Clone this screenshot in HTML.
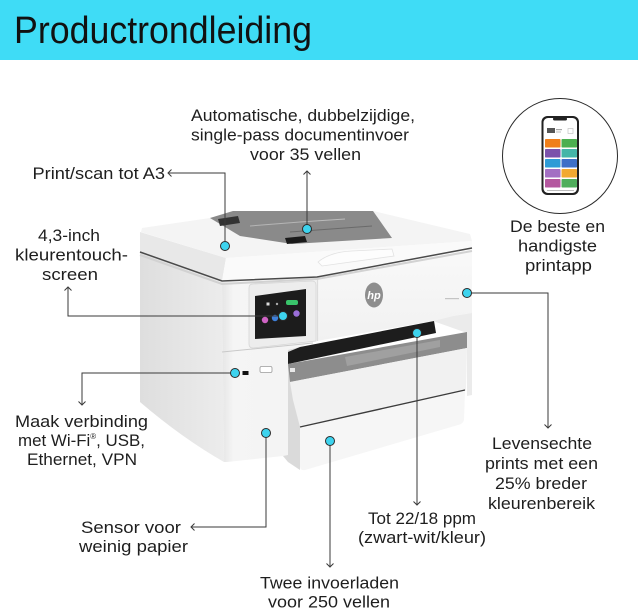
<!DOCTYPE html>
<html><head><meta charset="utf-8"><style>
html,body{margin:0;padding:0;background:#fff;}
svg{display:block;}
text{font-family:"Liberation Sans",Arial,sans-serif;}
</style></head><body>
<svg width="638" height="611" viewBox="0 0 638 611" xmlns="http://www.w3.org/2000/svg">
<defs>
<linearGradient id="gl" x1="0" y1="0" x2="1" y2="0">
<stop offset="0" stop-color="#dedede"/><stop offset="1" stop-color="#ececec"/>
</linearGradient>
<linearGradient id="gp" x1="0" y1="0" x2="1" y2="0">
<stop offset="0" stop-color="#e6e6e6"/><stop offset="0.12" stop-color="#f5f5f5"/><stop offset="1" stop-color="#f3f3f3"/>
</linearGradient>
<linearGradient id="gf" x1="0" y1="0" x2="0" y2="1">
<stop offset="0" stop-color="#f9f9f9"/><stop offset="1" stop-color="#f1f1f1"/>
</linearGradient>
</defs>
<rect width="638" height="611" fill="#fff"/>
<!-- header -->
<rect x="0" y="0" width="638" height="60" fill="#3fdcf6"/>
<text x="14" y="43" font-size="38" textLength="298" lengthAdjust="spacingAndGlyphs" fill="#111">Productrondleiding</text>

<!-- PRINTER -->
<!-- left face body -->
<path d="M140,252 L222,282 L224,462 Q182,438 140,402 Z" fill="url(#gl)"/>
<!-- gap shadow between pillar and trays -->
<polygon points="283,350 300,347 300,470 288,462 283,456" fill="#dadada"/>
<!-- pillar front -->
<polygon points="222,282 317,277 317,340 300,347 288,350 288,455 283,456 227,462 224,462" fill="url(#gp)"/>
<!-- front right module -->
<polygon points="317,277 472,248 472,313 453,316 433,321 317,341" fill="url(#gf)"/>
<line x1="317.5" y1="278" x2="317.5" y2="341" stroke="#dcdcdc" stroke-width="1.2"/>
<!-- right column -->
<polygon points="433,321 453,316 472,313 472,395 467,396 467,333" fill="#ebebeb"/>
<!-- black slot -->
<polygon points="288,352 300,347 434,321 436,333 288,364" fill="#1d1d1d"/>
<!-- gray tray -->
<polygon points="288,364 467,332 467,348 290,382" fill="#8d8d8d"/>
<polygon points="345,357 440,340 440,347 347,366" fill="#a0a0a0"/>
<rect x="290" y="368" width="5" height="4" fill="#e8e8e8"/>
<!-- tray 1 -->
<polygon points="290,382 467,348 466,390 300,427 293,400" fill="#f1f1f1"/>
<!-- tray 2 -->
<path d="M300,428 L465,391 L464,420 Q463,424 458,425 L305,470 Q300,471 300,466 Z" fill="#f6f6f6"/>
<path d="M300,427 L465,390" stroke="#3c3c3c" stroke-width="1.4" fill="none"/>

<!-- lid -->
<polygon points="140,232 226,258 222,281 140,252" fill="#e8e8e8"/>
<polygon points="142,228 210,218 232,211 373,211 470,234 472,241 226,258 141,232" fill="#f4f4f4"/>
<polygon points="226,258 472,241 472,248 317,276 222,281" fill="#fafafa"/>
<path d="M318,262 Q330,252 352,251 L392,249 L394,256 L322,266 Z" fill="#fdfdfd" stroke="#e2e2e2" stroke-width="0.8"/>
<!-- ADF gray -->
<polygon points="210,218 233,211 373,211 392,238 292,244 240,236" fill="#8a8a8a"/>
<polygon points="218,219 238,216 240,223 220,226" fill="#333"/>
<line x1="250" y1="226" x2="300" y2="222" stroke="#b5b5b5" stroke-width="1"/>
<line x1="290" y1="232" x2="372" y2="226" stroke="#6a6a6a" stroke-width="1"/>
<line x1="300" y1="222" x2="345" y2="219" stroke="#bbbbbb" stroke-width="1"/>
<polygon points="285,238 305,236 307,242 287,244" fill="#1a1a1a"/>
<!-- lid dark line -->
<polyline points="140,255 222,284 317,279 472,251" fill="none" stroke="#d2d2d2" stroke-width="2"/>
<polyline points="140,252 222,281 317,277 472,248" fill="none" stroke="#4a4a4a" stroke-width="1.5"/>

<!-- control panel -->
<path d="M249,288 Q249,284 253,284 L312,281 Q316,281 316,285 L316,341 L253,348 Q249,348 249,344 Z" fill="#ededed" stroke="#d6d6d6" stroke-width="0.8"/>
<polygon points="255,296 306,289 306,336 255,339" fill="#1c1c1c"/>
<rect x="286" y="300" width="12" height="5" rx="2" fill="#39c46a"/>
<rect x="266.5" y="302.5" width="3" height="3" fill="#ddd"/>
<circle cx="277" cy="304" r="1.2" fill="#aaa"/>
<circle cx="265" cy="320" r="3.2" fill="#cf63c4"/>
<circle cx="275" cy="318" r="3.2" fill="#3e7fd9"/>
<circle cx="296.5" cy="313.5" r="3.2" fill="#9a6ed8"/>
<line x1="222" y1="352" x2="313" y2="343" stroke="#c9c9c9" stroke-width="1"/>
<!-- usb -->
<rect x="242.5" y="371" width="6" height="4" fill="#111"/>
<rect x="260" y="366.5" width="12" height="6" rx="1.5" fill="#fff" stroke="#9a9a9a" stroke-width="0.8"/>
<!-- hp logo -->
<ellipse cx="374" cy="295" rx="9" ry="12.5" fill="#8e8e8e"/>
<text x="374" y="299" font-size="11" font-style="italic" font-weight="bold" fill="#fff" text-anchor="middle">hp</text>
<rect x="445" y="298" width="14" height="1.2" fill="#c4c4c4"/>

<!-- connectors -->
<g stroke="#3a3a3a" stroke-width="1" fill="none">
<polyline points="168,173 225,173 225,246"/>
<path d="M171.5,169.5 L168,173 L171.5,176.5"/>
<line x1="307" y1="171" x2="307" y2="229"/>
<path d="M303.5,174.5 L307,171 L310.5,174.5"/>
<polyline points="68,287 68,316 283,316"/>
<path d="M64.5,290.5 L68,287 L71.5,290.5"/>
<polyline points="235,373 82,373 82,405"/>
<path d="M78.5,401.5 L82,405 L85.5,401.5"/>
<polyline points="266,433 266,527 191,527"/>
<path d="M194.5,523.5 L191,527 L194.5,530.5"/>
<line x1="330" y1="441" x2="330" y2="567"/>
<path d="M326.5,563.5 L330,567 L333.5,563.5"/>
<line x1="417" y1="333" x2="417" y2="505"/>
<path d="M413.5,501.5 L417,505 L420.5,501.5"/>
<polyline points="467,293 548,293 548,428"/>
<path d="M544.5,424.5 L548,428 L551.5,424.5"/>
</g>
<!-- dots -->
<g fill="#3dd3ee" stroke="#2a2a2a" stroke-width="1">
<circle cx="225" cy="246" r="4.5"/>
<circle cx="307" cy="229" r="4.5"/>
<circle cx="283" cy="316" r="4.5"/>
<circle cx="235" cy="373" r="4.5"/>
<circle cx="266" cy="433" r="4.5"/>
<circle cx="330" cy="441" r="4.5"/>
<circle cx="417" cy="333" r="4.5"/>
<circle cx="467" cy="293" r="4.5"/>
</g>

<!-- phone circle -->
<circle cx="560" cy="156" r="57.5" fill="none" stroke="#2a2a2a" stroke-width="1"/>
<rect x="541.5" y="116" width="37.5" height="79" rx="6" fill="#222"/>
<rect x="543.5" y="118" width="33.5" height="75" rx="4.5" fill="#fff"/>
<rect x="553" y="117.5" width="14" height="3" rx="1.5" fill="#222"/>
<rect x="547" y="128" width="8" height="5" fill="#555"/>
<rect x="556" y="129" width="6" height="1.2" fill="#aaa"/>
<rect x="556" y="131.5" width="5" height="1" fill="#bbb"/>
<rect x="568" y="128.5" width="5" height="5" fill="none" stroke="#bbb" stroke-width="0.6"/>
<g>
<rect x="545" y="139" width="15.5" height="8.5" rx="0.8" fill="#f07f1a"/>
<rect x="561.5" y="139" width="15.5" height="8.5" rx="0.8" fill="#4caf50"/>
<rect x="545" y="149" width="15.5" height="8.5" rx="0.8" fill="#7b52ab"/>
<rect x="561.5" y="149" width="15.5" height="8.5" rx="0.8" fill="#44b5a8"/>
<rect x="545" y="159" width="15.5" height="8.5" rx="0.8" fill="#2e9bd6"/>
<rect x="561.5" y="159" width="15.5" height="8.5" rx="0.8" fill="#3d6fc7"/>
<rect x="545" y="169" width="15.5" height="8.5" rx="0.8" fill="#a36fc3"/>
<rect x="561.5" y="169" width="15.5" height="8.5" rx="0.8" fill="#f2a931"/>
<rect x="545" y="179" width="15.5" height="8.5" rx="0.8" fill="#b4579f"/>
<rect x="561.5" y="179" width="15.5" height="8.5" rx="0.8" fill="#4fae5c"/>
</g>
<rect x="547" y="190" width="27" height="1" fill="#bbb"/>

<!-- labels -->
<g font-size="17" fill="#1e1e1e">
<text x="191" y="121" textLength="224" lengthAdjust="spacingAndGlyphs">Automatische, dubbelzijdige,</text>
<text x="191" y="140.5" textLength="218" lengthAdjust="spacingAndGlyphs">single-pass documentinvoer</text>
<text x="250" y="160" textLength="111" lengthAdjust="spacingAndGlyphs">voor 35 vellen</text>

<text x="32.5" y="179" textLength="132.5" lengthAdjust="spacingAndGlyphs">Print/scan tot A3</text>

<text x="38" y="241" textLength="62" lengthAdjust="spacingAndGlyphs">4,3-inch</text>
<text x="15" y="260.5" textLength="113" lengthAdjust="spacingAndGlyphs">kleurentouch-</text>
<text x="42" y="280" textLength="56" lengthAdjust="spacingAndGlyphs">screen</text>

<text x="15" y="427" textLength="133" lengthAdjust="spacingAndGlyphs">Maak verbinding</text>
<text x="18" y="446" textLength="127" lengthAdjust="spacingAndGlyphs">met Wi-Fi<tspan font-size="8" dy="-7">®</tspan><tspan dy="7">, USB,</tspan></text>
<text x="27" y="465" textLength="110" lengthAdjust="spacingAndGlyphs">Ethernet, VPN</text>

<text x="81" y="533" textLength="100" lengthAdjust="spacingAndGlyphs">Sensor voor</text>
<text x="79" y="552" textLength="109" lengthAdjust="spacingAndGlyphs">weinig papier</text>

<text x="260" y="588.5" textLength="139" lengthAdjust="spacingAndGlyphs">Twee invoerladen</text>
<text x="268" y="607.5" textLength="122" lengthAdjust="spacingAndGlyphs">voor 250 vellen</text>

<text x="368" y="524" textLength="108" lengthAdjust="spacingAndGlyphs">Tot 22/18 ppm</text>
<text x="358" y="543" textLength="128" lengthAdjust="spacingAndGlyphs">(zwart-wit/kleur)</text>

<text x="510" y="232" textLength="95" lengthAdjust="spacingAndGlyphs">De beste en</text>
<text x="518" y="251.5" textLength="79" lengthAdjust="spacingAndGlyphs">handigste</text>
<text x="525" y="271" textLength="67" lengthAdjust="spacingAndGlyphs">printapp</text>

<text x="492" y="449" textLength="100" lengthAdjust="spacingAndGlyphs">Levensechte</text>
<text x="485" y="469" textLength="113" lengthAdjust="spacingAndGlyphs">prints met een</text>
<text x="495" y="489" textLength="92" lengthAdjust="spacingAndGlyphs">25% breder</text>
<text x="488" y="509" textLength="107" lengthAdjust="spacingAndGlyphs">kleurenbereik</text>
</g>
</svg>
</body></html>
